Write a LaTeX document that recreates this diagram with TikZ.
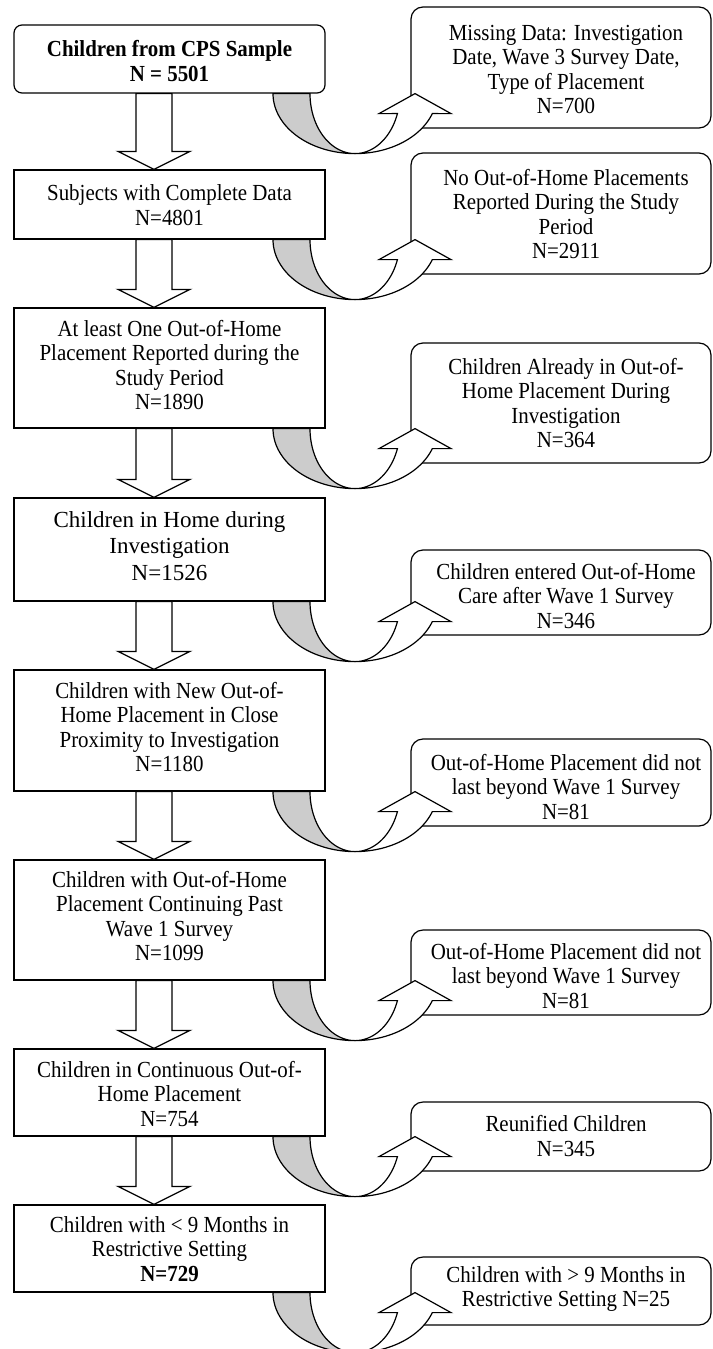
\documentclass[tikz,border=0pt]{standalone}
\usepackage{fontspec}
\setmainfont{Liberation Serif}[FakeStretch=0.91]
\newfontfamily\widefont{Liberation Serif}
\usetikzlibrary{calc}
\newcommand\dnarr[2]{%
  \draw[fill=white] let \p1=(#1.south), \p2=(#2.north) in
    (136pt,\y1) -- (172pt,\y1) -- (172pt,\y2+18pt) -- (190pt,\y2+18pt) -- (154pt,\y2)
    -- (118pt,\y2+18pt) -- (136pt,\y2+18pt) -- cycle;}
\newcommand\curv[1]{%
  \draw[fill=gray!40] let \p1=(#1.south) in
    plot[variable=\t,domain=180:90,samples=40] ({(355+82*cos(\t))*1pt},{\y1-60*sin(\t)})
    -- plot[variable=\t,domain=90:180,samples=40] ({(355+45*cos(\t))*1pt},{\y1-60*sin(\t)}) -- cycle;
  \draw[fill=white] let \p1=(#1.south) in
    plot[variable=\t,domain=90:19.47,samples=40] ({(355+82*cos(\t))*1pt},{\y1-60*sin(\t)})
    -- (451pt,\y1-20pt) -- (415pt,\y1) -- (379pt,\y1-20pt)
    -- plot[variable=\t,domain=19.47:90,samples=40] ({(355+45*cos(\t))*1pt},{\y1-60*sin(\t)}) -- cycle;}
\begin{document}
\begin{tikzpicture}[x=1pt,y=-1pt,line width=1.2pt,
  lbox/.style={draw, minimum width=311pt, inner sep=0pt},
  rbox/.style={draw, rounded corners=12pt, minimum width=300pt, inner sep=0pt},
  txt/.style={align=center, inner sep=0pt, font=\fontsize{23}{24.5}\selectfont},
  bigtxt/.style={align=center, inner sep=0pt, font=\widefont\fontsize{23}{26.5}\selectfont}]
\useasboundingbox (0,0) rectangle (712,1349);
% left boxes
\node[lbox, rounded corners=8pt, minimum height=68pt] (b1) at (169.5,59) {};
\node[lbox, minimum height=69pt] (b2) at (169.5,204.5) {};
\node[lbox, minimum height=120pt] (b3) at (169.5,368) {};
\node[lbox, minimum height=103pt] (b4) at (169.5,549.5) {};
\node[lbox, minimum height=121pt] (b5) at (169.5,730.5) {};
\node[lbox, minimum height=120pt] (b6) at (169.5,920) {};
\node[lbox, minimum height=87pt] (b7) at (169.5,1092.5) {};
\node[lbox, minimum height=87pt] (b8) at (169.5,1248.5) {};
\node[txt] (t1) at (169.5,61) {\textbf{Children from CPS Sample}\\\textbf{N = 5501}};
\node[txt] (t2) at (169.5,205) {Subjects with Complete Data\\N=4801};
\node[txt] (t3) at (169.5,365) {At least One Out-of-Home\\Placement Reported during the\\Study Period\\N=1890};
\node[bigtxt] (t4) at (169.5,546) {Children in Home during\\Investigation\\N=1526};
\node[txt] (t5) at (169.5,727) {Children with New Out-of-\\Home Placement in Close\\Proximity to Investigation\\N=1180};
\node[txt] (t6) at (169.5,916) {Children with Out-of-Home\\Placement Continuing Past\\Wave 1 Survey\\N=1099};
\node[txt] (t7) at (169.5,1094) {Children in Continuous Out-of-\\Home Placement\\N=754};
\node[txt] (t8) at (169.5,1249) {Children with < 9 Months in\\Restrictive Setting\\\textbf{N=729}};
% right boxes
\node[rbox, minimum height=121pt] (r1) at (561,67.5) {};
\node[rbox, minimum height=121pt] (r2) at (561,213.5) {};
\node[rbox, minimum height=120pt] (r3) at (561,403) {};
\node[rbox, minimum height=85pt] (r4) at (561,592.5) {};
\node[rbox, minimum height=87pt] (r5) at (561,782.5) {};
\node[rbox, minimum height=85pt] (r6) at (561,972.5) {};
\node[rbox, minimum height=69pt] (r7) at (561,1136.5) {};
\node[rbox, minimum height=68pt] (r8) at (561,1291) {};
\node[txt] (s1) at (566,69.5) {Missing Data: Investigation\\Date, Wave 3 Survey Date,\\Type of Placement\\N=700};
\node[txt] (s2) at (566,214) {No Out-of-Home Placements\\Reported During the Study\\Period\\N=2911};
\node[txt] (s3) at (566,403) {Children Already in Out-of-\\Home Placement During\\Investigation\\N=364};
\node[txt] (s4) at (566,596) {Children entered Out-of-Home\\Care after Wave 1 Survey\\N=346};
\node[txt] (s5) at (566,787) {Out-of-Home Placement did not\\last beyond Wave 1 Survey\\N=81};
\node[txt] (s6) at (566,976) {Out-of-Home Placement did not\\last beyond Wave 1 Survey\\N=81};
\node[txt] (s7) at (566,1136) {Reunified Children\\N=345};
\node[txt] (s8) at (566,1289) {Children with > 9 Months in\\Restrictive Setting N=25};
% down arrows
\dnarr{b1}{b2}
\dnarr{b2}{b3}
\dnarr{b3}{b4}
\dnarr{b4}{b5}
\dnarr{b5}{b6}
\dnarr{b6}{b7}
\dnarr{b7}{b8}
% curved arrows
\curv{b1}
\curv{b2}
\curv{b3}
\curv{b4}
\curv{b5}
\curv{b6}
\curv{b7}
\curv{b8}
\end{tikzpicture}
\end{document}
